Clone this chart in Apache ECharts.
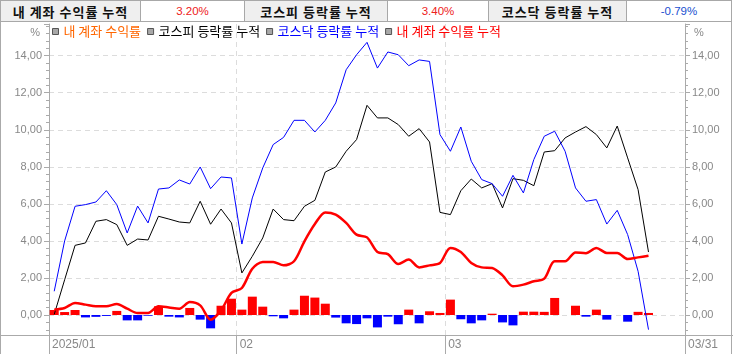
<!DOCTYPE html>
<html>
<head>
<meta charset="utf-8">
<script src="https://cdn.jsdelivr.net/npm/echarts@6/dist/echarts.min.js"></script>
<style>
body{margin:0;background:#fff;}
#wrap{width:733px;height:354px;position:relative;overflow:hidden;}
#head{position:absolute;left:0;top:0;width:732px;height:22px;border-collapse:collapse;table-layout:fixed;}
#head td{border:1px solid #a8a8a8;padding:0;height:20px;text-align:center;white-space:nowrap;}
#head td.lb{background:#efefef;font:bold 13px "Noto Sans CJK KR",sans-serif;letter-spacing:1px;color:#111;}
#head td.val{background:#fff;font:11.5px "Liberation Sans",Arial,sans-serif;}
#chart{position:absolute;left:0;top:22px;width:733px;height:332px;}
</style>
</head>
<body>
<div id="wrap">
<table id="head"><tr>
<td class="lb" style="width:139px">내 계좌 수익률 누적</td><td class="val" id="v1" style="width:103px"></td>
<td class="lb" style="width:142px">코스피 등락률 누적</td><td class="val" id="v2" style="width:100px"></td>
<td class="lb" style="width:137px">코스닥 등락률 누적</td><td class="val" id="v3"></td>
</tr></table>
<div id="chart"></div>
</div>
<script>
// trading days, 2025
var dates = ['01/02','01/03','01/06','01/07','01/08','01/09','01/10','01/13','01/14','01/15',
  '01/16','01/17','01/20','01/21','01/22','01/23','01/24','01/31',
  '02/03','02/04','02/05','02/06','02/07','02/10','02/11','02/12','02/13','02/14',
  '02/17','02/18','02/19','02/20','02/21','02/24','02/25','02/26','02/27','02/28',
  '03/04','03/05','03/06','03/07','03/10','03/11','03/12','03/13','03/14','03/17',
  '03/18','03/19','03/20','03/21','03/24','03/25','03/26','03/27','03/28','03/31'];

// 내 계좌 수익률 (daily, %)
var acctDaily = [0.27,0.16,0.27,-0.13,-0.10,-0.05,0.22,-0.29,-0.29,-0.04,
  0.47,-0.09,-0.13,0.38,-0.25,-0.72,0.50,0.88,0.29,0.99,
  0.45,-0.07,-0.18,0.29,1.04,0.94,0.61,-0.14,-0.45,-0.49,
  -0.18,-0.67,-0.09,-0.50,0.29,-0.45,0.20,0.11,0.83,-0.23,
  -0.45,-0.29,0.07,-0.40,-0.56,0.18,0.18,0.17,0.92,0,
  0.50,-0.09,0.29,-0.25,0,-0.36,0.17,0.11];

// 코스피 등락률 누적
var kospiCum = [0.03,1.90,3.76,3.89,5.06,5.15,4.88,3.76,4.10,4.05,
  5.33,5.18,5.02,4.97,6.14,4.90,5.72,4.97,2.27,3.17,
  4.16,5.72,5.15,5.09,5.87,6.19,7.72,7.99,8.84,9.47,
  11.32,10.64,10.64,10.28,9.65,10.06,9.34,5.54,5.42,6.71,
  7.34,6.86,7.09,5.78,7.36,7.27,6.98,8.80,8.87,9.56,
  9.88,10.17,9.74,9.02,10.20,8.48,6.77,3.40];

// 코스닥 등락률 누적
var kosdaqCum = [1.28,4.00,5.87,5.96,6.10,6.71,5.96,4.43,5.88,4.97,
  6.80,6.86,7.29,7.07,7.99,6.82,7.45,7.40,3.83,6.32,
  7.94,9.20,9.59,10.51,10.51,9.88,10.51,11.45,13.24,14.05,
  14.72,13.33,14.20,14.05,13.46,13.77,13.69,9.74,8.84,10.15,
  8.30,7.31,7.09,6.41,7.54,6.59,8.39,9.65,9.92,8.84,
  6.86,6.14,6.23,4.91,5.65,4.34,2.36,-0.79];

// 내 계좌 수익률 누적
var acctCum = [0.29,0.38,0.65,0.56,0.47,0.47,0.59,0.34,0.11,0.11,
  0.47,0.41,0.34,0.70,0.52,-0.25,0.25,1.19,1.46,2.50,
  2.86,2.86,2.68,2.90,3.98,4.91,5.54,5.42,4.97,4.34,
  4.19,3.40,3.29,2.75,2.99,2.57,2.68,2.81,3.62,3.40,
  2.81,2.57,2.54,2.14,1.55,1.64,1.82,1.96,2.90,2.90,
  3.38,3.33,3.62,3.35,3.35,3.02,3.11,3.20];

var monthLabels = ['2025/01', '02', '03', '03/31'];
var extraSlots = 3;

var names = ['내 계좌 수익률', '코스피 등락률 누적', '코스닥 등락률 누적', '내 계좌 수익률 누적'];

function setVal(id, v) {
  var td = document.getElementById(id);
  td.textContent = v.toFixed(2) + '%';
  td.style.color = v >= 0 ? '#ee2020' : '#2050d0';
}
setVal('v1', acctCum[acctCum.length - 1]);
setVal('v2', kospiCum[kospiCum.length - 1]);
setVal('v3', kosdaqCum[kosdaqCum.length - 1]);

// month boundaries
var labelPos = [0];
for (var i = 1; i < dates.length; i++) {
  if (dates[i].slice(0, 2) !== dates[i - 1].slice(0, 2)) labelPos.push(i);
}
var xMax = dates.length + extraSlots;
labelPos.push(xMax);

function pts(arr) {
  return arr.map(function (v, i) { return [i + 0.5, v]; });
}

function yLabel(v) {
  if (Math.abs(v - Math.round(v / 2) * 2) > 1e-6) return '';
  return v.toFixed(2).replace('.', ',');
}

function yAxis(pos) {
  return {
    type: 'value', position: pos, min: -1.08, max: 15.71, splitNumber: 8,
    name: '%', nameLocation: 'end', nameGap: -14,
    nameTextStyle: {color: '#888', fontSize: 11, fontFamily: 'Liberation Sans',
      align: pos === 'left' ? 'right' : 'left',
      padding: pos === 'left' ? [0, 9, 0, 0] : [0, 0, 0, 9]},
    axisLine: {show: true, lineStyle: {color: '#aaa'}},
    axisTick: {show: true, length: 5, lineStyle: {color: '#aaa'}},
    minorTick: {show: true, splitNumber: 5, length: 3, lineStyle: {color: '#aaa'}},
    axisLabel: {color: '#888', fontSize: 11, fontFamily: 'Liberation Sans', margin: 7, formatter: yLabel},
    splitLine: {show: pos === 'left', showMinLine: false, showMaxLine: false,
      lineStyle: {color: '#dcdcdc', type: [5, 4]}}
  };
}

var chart = echarts.init(document.getElementById('chart'));
chart.setOption({
  animation: false,
  grid: {left: 49, right: 48, top: 2, bottom: 19},
  legend: {
    left: 52, top: 3, padding: 0, itemWidth: 6, itemHeight: 6, itemGap: 6, icon: 'rect',
    itemStyle: {color: '#a8a8a8', borderColor: '#555', borderWidth: 1},
    textStyle: {fontSize: 13, fontFamily: 'Noto Sans CJK KR'},
    data: [
      {name: names[0], textStyle: {color: '#ff6600'}},
      {name: names[1], textStyle: {color: '#000'}},
      {name: names[2], textStyle: {color: '#0000ff'}},
      {name: names[3], textStyle: {color: '#ff0000'}}
    ]
  },
  xAxis: {
    type: 'value', min: 0, max: xMax,
    axisLine: {show: true, onZero: false, lineStyle: {color: '#aaa'}},
    axisTick: {show: true, customValues: labelPos, length: 19, lineStyle: {color: '#aaa'}},
    axisLabel: {customValues: labelPos, align: 'left', margin: 4, padding: [0, 0, 0, 3],
      color: '#888', fontSize: 12, fontFamily: 'Liberation Sans',
      showMinLabel: true, showMaxLabel: true,
      formatter: function (v) {
        var k = labelPos.indexOf(v);
        return k >= 0 ? monthLabels[k] : '';
      }},
    splitLine: {show: true, showMinLine: false, showMaxLine: false,
      lineStyle: {color: '#dcdcdc', type: [5, 4]}}
  },
  yAxis: [yAxis('left'), yAxis('right')],
  graphic: [
    {type: 'line', shape: {x1: 0, y1: 313.5, x2: 733, y2: 313.5}, style: {stroke: '#aaa', lineWidth: 1}},
    {type: 'line', shape: {x1: 0.5, y1: 0, x2: 0.5, y2: 332}, style: {stroke: '#aaa', lineWidth: 1}},
    {type: 'line', shape: {x1: 731.5, y1: 0, x2: 731.5, y2: 332}, style: {stroke: '#aaa', lineWidth: 1}}
  ],
  series: [
    {
      name: names[0], type: 'bar', barWidth: 9,
      data: pts(acctDaily),
      itemStyle: {color: function (p) { return p.value[1] >= 0 ? '#ff0000' : '#0000ff'; }}
    },
    {
      name: names[1], type: 'line', data: pts(kospiCum), showSymbol: false,
      lineStyle: {color: '#000', width: 1}, itemStyle: {color: '#000'}
    },
    {
      name: names[2], type: 'line', data: pts(kosdaqCum), showSymbol: false,
      lineStyle: {color: '#0000ff', width: 1}, itemStyle: {color: '#0000ff'}
    },
    {
      name: names[3], type: 'line', data: pts(acctCum), showSymbol: false, smooth: 0.3,
      lineStyle: {color: '#ff0000', width: 2.5}, itemStyle: {color: '#ff0000'}
    }
  ]
});
</script>
</body>
</html>
